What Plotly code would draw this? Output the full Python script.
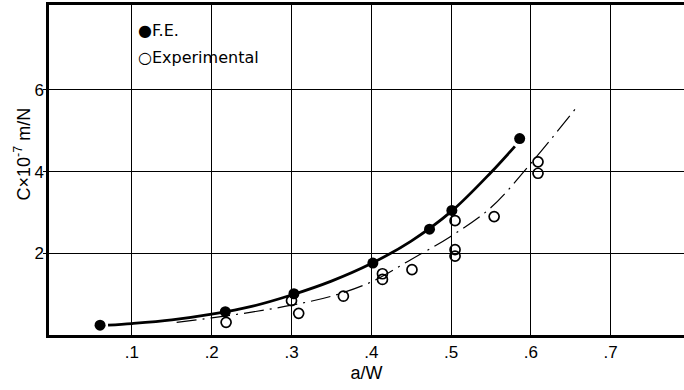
import plotly.graph_objects as go

# F.E. (finite element) points
fe_x = [0.060, 0.217, 0.303, 0.402, 0.473, 0.501, 0.586]
fe_y = [0.24, 0.57, 1.01, 1.76, 2.59, 3.05, 4.81]

# Experimental points
ex_x = [0.218, 0.300, 0.309, 0.365, 0.414, 0.414, 0.451, 0.505, 0.505, 0.505, 0.554, 0.609, 0.609]
ex_y = [0.31, 0.84, 0.53, 0.95, 1.50, 1.36, 1.60, 2.80, 2.09, 1.93, 2.90, 4.24, 3.96]

# Fitted curves
fe_curve_x = [0.070, 0.10, 0.15, 0.20, 0.25, 0.30, 0.35, 0.40, 0.45, 0.50, 0.55, 0.58]
fe_curve_y = [0.24, 0.28, 0.37, 0.51, 0.70, 0.98, 1.32, 1.75, 2.30, 3.02, 3.98, 4.62]

ex_curve_x = [0.156, 0.20, 0.25, 0.30, 0.35, 0.40, 0.45, 0.50, 0.55, 0.60, 0.658]
ex_curve_y = [0.31, 0.42, 0.56, 0.73, 0.95, 1.30, 1.85, 2.42, 3.12, 4.20, 5.59]

x_tickvals = [0.1, 0.2, 0.3, 0.4, 0.5, 0.6, 0.7]
x_ticktext = [".1", ".2", ".3", ".4", ".5", ".6", ".7"]
y_tickvals = [2, 4, 6]
y_ticktext = ["2", "4", "6"]

legend_labels = ["\u25cfF.E.", "\u25cbExperimental"]
y_title = "C\u00d710<sup>-7</sup> m/N"
x_title = "a/W"

FONT = "Liberation Sans, Arial, sans-serif"

fig = go.Figure()

fig.add_trace(go.Scatter(x=fe_curve_x, y=fe_curve_y, mode="lines",
                         line=dict(color="black", width=2.8, shape="spline", smoothing=1),
                         showlegend=False, hoverinfo="skip"))
fig.add_trace(go.Scatter(x=ex_curve_x, y=ex_curve_y, mode="lines",
                         line=dict(color="black", width=1.2, shape="spline", smoothing=1,
                                   dash="20px,6px,2px,6px"),
                         showlegend=False, hoverinfo="skip"))
fig.add_trace(go.Scatter(x=fe_x, y=fe_y, mode="markers", name="F.E.",
                         marker=dict(symbol="circle", size=11, color="black"),
                         showlegend=False))
fig.add_trace(go.Scatter(x=ex_x, y=ex_y, mode="markers", name="Experimental",
                         marker=dict(symbol="circle-open", size=10,
                                     color="black", line=dict(width=1.7)),
                         showlegend=False))

annotations = [
    dict(text=legend_labels[0], xref="paper", yref="paper", x=0.137, y=0.922,
         xanchor="left", yanchor="middle", showarrow=False,
         font=dict(family="DejaVu Sans, sans-serif", size=16, color="black")),
    dict(text=legend_labels[1], xref="paper", yref="paper", x=0.137, y=0.842,
         xanchor="left", yanchor="middle", showarrow=False,
         font=dict(family="DejaVu Sans, sans-serif", size=16, color="black")),
    dict(text=y_title, xref="paper", yref="paper", x=-0.041, y=0.55,
         xanchor="center", yanchor="middle", textangle=-90, showarrow=False,
         font=dict(family=FONT, size=18, color="black")),
]

fig.update_layout(
    width=684, height=390,
    margin=dict(l=49, r=0, t=5, b=55),
    paper_bgcolor="white", plot_bgcolor="white",
    font=dict(family=FONT, color="black", size=15),
    showlegend=False,
    annotations=annotations,
)
fig.update_xaxes(range=[-0.004, 0.792], tickvals=x_tickvals, ticktext=x_ticktext,
                 showgrid=True, gridcolor="black", gridwidth=1,
                 showline=True, linecolor="black", linewidth=2.5, mirror=True,
                 ticks="", zeroline=False,
                 title=dict(text=x_title, font=dict(size=18), standoff=6),
                 tickfont=dict(size=17))
fig.update_yaxes(range=[0, 8.08], tickvals=y_tickvals, ticktext=y_ticktext,
                 showgrid=True, gridcolor="black", gridwidth=1,
                 showline=True, linecolor="black", linewidth=2.5,
                 ticks="outside", ticklen=3, tickcolor="black",
                 ticklabelstandoff=-4,
                 zeroline=False,
                 tickfont=dict(size=17))

fig.write_html("out.html")
